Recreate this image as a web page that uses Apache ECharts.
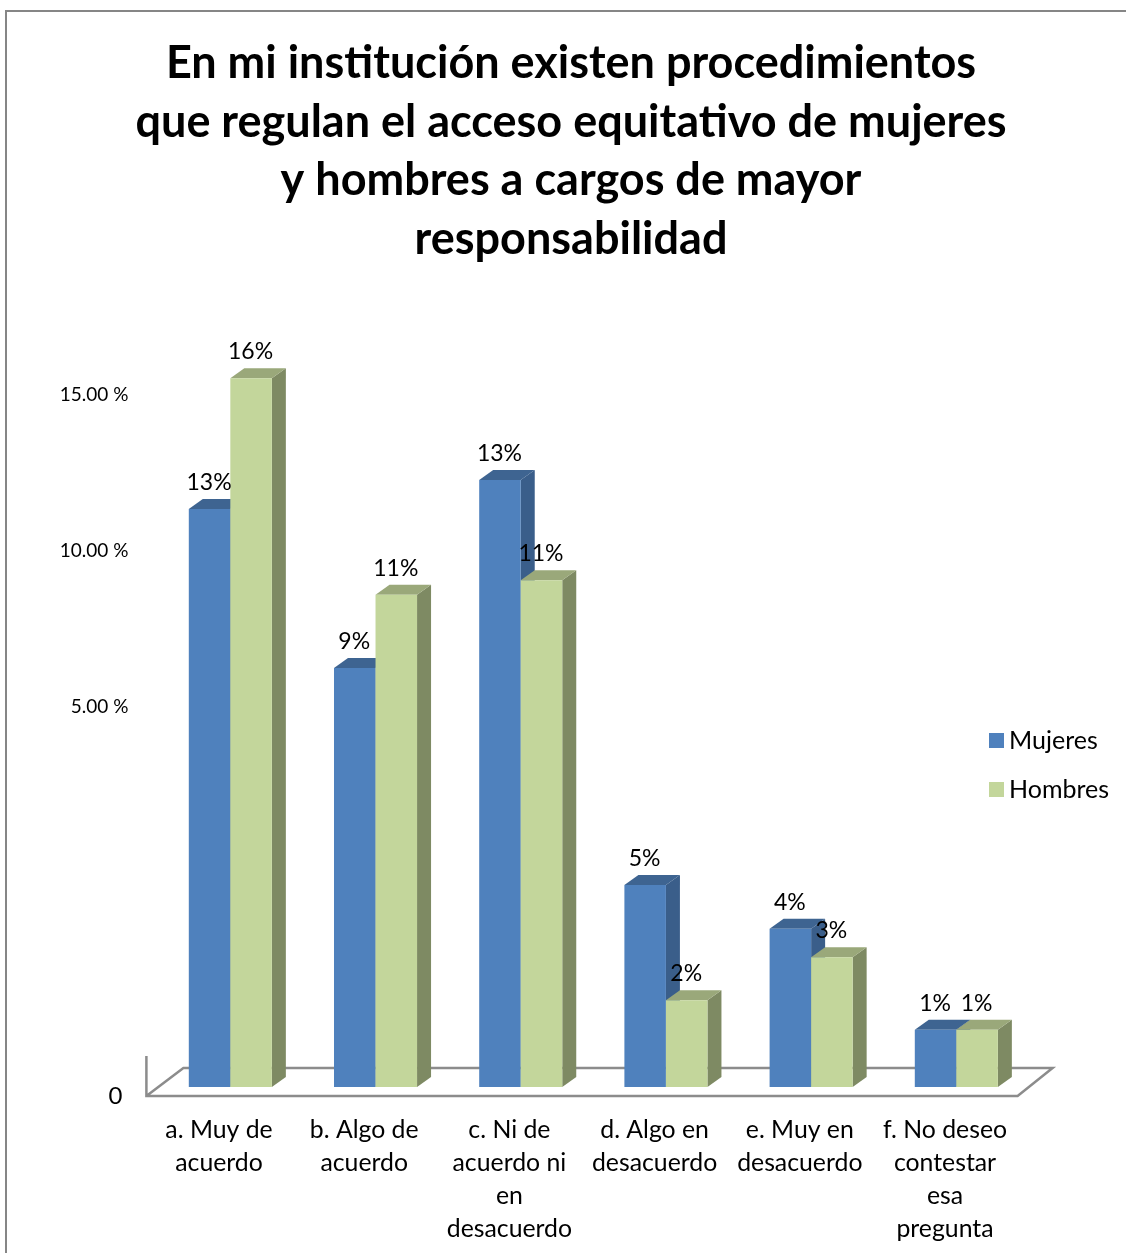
<!DOCTYPE html>
<html><head><meta charset="utf-8">
<style>html,body{margin:0;padding:0;background:#fff}#c{width:1126px;height:1253px}</style>
<script src="https://cdn.jsdelivr.net/npm/echarts@6/dist/echarts.min.js"></script>
</head><body><div id="c"></div>
<script>
const titleText = 'En mi institución existen procedimientos\nque regulan el acceso equitativo de mujeres\ny hombres a cargos de mayor\nresponsabilidad';
const categories = ['a. Muy de\nacuerdo','b. Algo de\nacuerdo','c. Ni de\nacuerdo ni\nen\ndesacuerdo','d. Algo en\ndesacuerdo','e. Muy en\ndesacuerdo','f. No deseo\ncontestar\nesa\npregunta'];
const mujeres = [13.05, 9.46, 13.70, 4.56, 3.57, 1.29];
const hombres = [16.00, 11.11, 11.44, 1.96, 2.93, 1.29];
const mujeresLabels = ['13%','9%','13%','5%','4%','1%'];
const hombresLabels = ['16%','11%','11%','2%','3%','1%'];
const tickLabels = ['0','5.00 %','10.00 %','15.00 %'];
const tickPositions = [0, 8.78, 12.31, 15.83];

const FONT = 'Lato, "Open Sans", sans-serif';
const COL = {
  m:{front:'#4F81BD', top:'#3E6491', side:'#3A5E8A'},
  h:{front:'#C3D69B', top:'#9AA87A', side:'#7E8A63'}
};
const DX = 14, DY = 10, LIFT = 9, LINE = '#8C8C8C';

function barGeom(api, which){
  const i = api.value(0), v = api.value(1);
  const band = api.size([1,0])[0];
  const w = band * 0.286;
  const base = api.coord([i,0]);
  const top = api.coord([i,v]);
  const split = base[0] + band * 0.078;
  const x0 = which === 'm' ? split - w : split;
  return {x0, x1:x0 + w, y0:top[1] - LIFT, y1:base[1] - LIFT};
}
function barRender(which){
  return function(params, api){
    const g = barGeom(api, which), c = COL[which];
    const poly = (pts, fill) => ({type:'polygon', shape:{points:pts}, style:{fill}});
    return {type:'group', children:[
      poly([[g.x1,g.y0],[g.x1+DX,g.y0-DY],[g.x1+DX,g.y1-DY],[g.x1,g.y1]], c.side),
      poly([[g.x0,g.y0],[g.x0+DX,g.y0-DY],[g.x1+DX,g.y0-DY],[g.x1,g.y0]], c.top),
      {type:'rect', shape:{x:g.x0,y:g.y0,width:g.x1-g.x0,height:g.y1-g.y0}, style:{fill:c.front}}
    ]};
  };
}
function labelRender(which, labels){
  return function(params, api){
    const g = barGeom(api, which);
    return {type:'text', style:{text:labels[api.value(0)], x:(g.x0+g.x1)/2 - 0.5, y:g.y0 - 26.5,
      align:'center', verticalAlign:'middle', fill:'#000', font:'23px '+FONT}};
  };
}
function floorRender(params, api){
  const band = api.size([1,0])[0];
  const l = api.coord([0,0]); 
  const r = api.coord([categories.length-1,0]);
  const x0 = l[0]-band/2, x1 = r[0]+band/2, y = l[1];
  const st = {stroke:LINE, lineWidth:2.5, fill:null};
  return {type:'group', children:[
    {type:'polyline', shape:{points:[[x0,y-40],[x0,y],[x1,y],[x1+35,y-28],[x0+37,y-28],[x0,y]]}, style:st}
  ]};
}
const rows = vals => vals.map((v,i)=>[i,v]);

const chart = echarts.init(document.getElementById('c'), null, {renderer:'canvas'});
chart.setOption({
  animation:false,
  backgroundColor:'#fff',
  title:{text:titleText, left:566, top:29.5, textAlign:'center',
    textStyle:{fontFamily:FONT, fontWeight:'bold', fontSize:45, lineHeight:58.5, color:'#000'}},
  graphic:[{type:'rect', shape:{x:6,y:11,width:1200,height:1300}, style:{fill:null, stroke:'#868686', lineWidth:2}, z:-1}],
  legend:{data:['Mujeres','Hombres'], orient:'vertical', left:984, top:723, itemWidth:15, itemHeight:15, itemGap:24,
    textStyle:{fontFamily:FONT, fontSize:25, color:'#000'}, icon:'rect', selectedMode:false},
  grid:{left:146.4, width:871.2, top:342.9, height:753.1},
  xAxis:{type:'category', data:categories, axisLine:{show:false}, axisTick:{show:false},
    axisLabel:{interval:0, margin:17.5, fontFamily:FONT, fontSize:24.8, lineHeight:33, color:'#000'}},
  yAxis:{type:'value', min:0, max:17, splitLine:{show:false}, axisLine:{show:false}, axisTick:{show:false},
    axisLabel:{customValues:tickPositions, margin:18, align:'right',
      formatter:v=>{const t=tickLabels[tickPositions.indexOf(v)]; return t==='0'?'{z|'+t+'}':'{t|'+t+'}';},
      rich:{t:{fontFamily:FONT,fontSize:19,color:'#000'}, z:{fontFamily:FONT,fontSize:24,color:'#000',padding:[0,6,0,0]}}}},
  series:[
    {type:'custom', name:'floor', silent:true, renderItem:floorRender, data:[[0,0]], encode:{x:0,y:1}, z:1},
    {type:'custom', name:'Mujeres', silent:true, renderItem:barRender('m'), data:rows(mujeres), encode:{x:0,y:1}, itemStyle:{color:COL.m.front}, z:2},
    {type:'custom', name:'Hombres', silent:true, renderItem:barRender('h'), data:rows(hombres), encode:{x:0,y:1}, itemStyle:{color:COL.h.front}, z:3},
    {type:'custom', name:'l1', silent:true, renderItem:labelRender('m',mujeresLabels), data:rows(mujeres), encode:{x:0,y:1}, z:5},
    {type:'custom', name:'l2', silent:true, renderItem:labelRender('h',hombresLabels), data:rows(hombres), encode:{x:0,y:1}, z:5}
  ]
});
</script></body></html>
